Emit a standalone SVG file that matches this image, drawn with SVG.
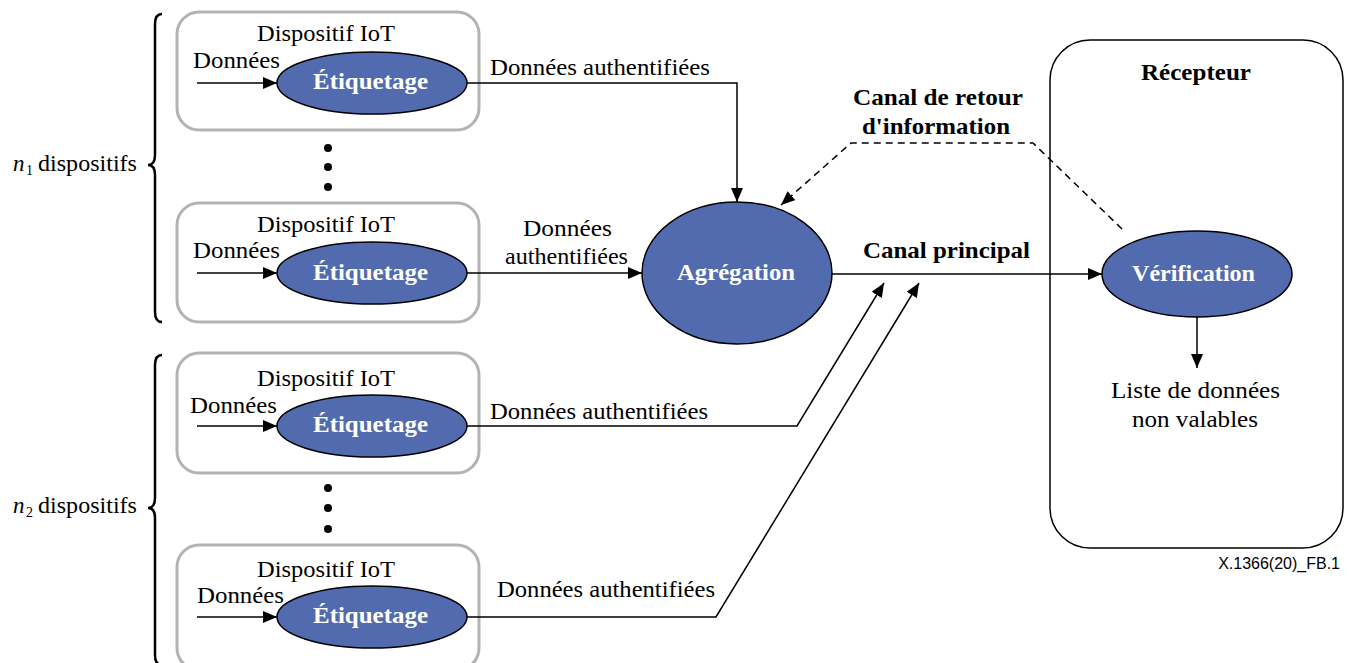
<svg xmlns="http://www.w3.org/2000/svg" width="1354" height="663" viewBox="0 0 1354 663">
<defs>
<style>
.t{font-family:"Liberation Serif","Times New Roman",serif;font-size:23px;fill:#000}
.b{font-family:"Liberation Serif","Times New Roman",serif;font-size:23px;font-weight:bold;fill:#000}
.w{font-family:"Liberation Serif","Times New Roman",serif;font-size:23px;font-weight:bold;fill:#fff}
.sub{font-family:"Liberation Serif","Times New Roman",serif;font-size:14px;fill:#000}
.dev{fill:#fff;stroke:#b3b3b3;stroke-width:3}
.ell{fill:#526bae;stroke:#000;stroke-width:1.5}
.ln{fill:none;stroke:#000;stroke-width:1.5}
.dash{fill:none;stroke:#000;stroke-width:1.5;stroke-dasharray:7 5}
.brace{fill:none;stroke:#000;stroke-width:2.5}
</style>
<marker id="ah" viewBox="0 0 14 12" refX="14" refY="6" markerWidth="14" markerHeight="12" markerUnits="userSpaceOnUse" orient="auto">
<path d="M0,0 L14,6 L0,12 Z" fill="#000"/>
</marker>
</defs>
<rect width="1354" height="663" fill="#fff"/>

<g id="brace1">
<path class="brace" d="M162 14 Q155 14 155 24 L155 155 Q155 165 148 165 Q155 165 155 175 L155 312 Q155 322 162 322"/>
<text class="t" x="13" y="171" font-style="italic">n</text>
<text class="sub" x="26" y="175">1</text>
<text class="t" x="38" y="171" textLength="99" lengthAdjust="spacingAndGlyphs">dispositifs</text>
</g>
<g id="brace2">
<path class="brace" d="M162 355 Q155 355 155 365 L155 498 Q155 508 148 508 Q155 508 155 518 L155 655 Q155 665 162 665"/>
<text class="t" x="13" y="513" font-style="italic">n</text>
<text class="sub" x="26" y="517">2</text>
<text class="t" x="38" y="513" textLength="99" lengthAdjust="spacingAndGlyphs">dispositifs</text>
</g>

<g id="device1">
<rect class="dev" x="177" y="12" width="302" height="118" rx="22"/>
<text class="t" x="257" y="41" textLength="138" lengthAdjust="spacingAndGlyphs">Dispositif IoT</text>
<text class="t" x="193" y="68" textLength="87" lengthAdjust="spacingAndGlyphs">Données</text>
<ellipse class="ell" cx="372" cy="83" rx="95" ry="31"/>
<text class="w" x="313" y="89" textLength="115" lengthAdjust="spacingAndGlyphs">Étiquetage</text>
</g>
<g id="dots1" fill="#000">
<circle cx="328" cy="148" r="4"/><circle cx="328" cy="167" r="4"/><circle cx="328" cy="187" r="4"/>
</g>
<g id="device2">
<rect class="dev" x="177" y="203" width="302" height="119" rx="22"/>
<text class="t" x="257" y="232" textLength="138" lengthAdjust="spacingAndGlyphs">Dispositif IoT</text>
<text class="t" x="193" y="258" textLength="87" lengthAdjust="spacingAndGlyphs">Données</text>
<ellipse class="ell" cx="372" cy="273" rx="95" ry="31"/>
<text class="w" x="313" y="280" textLength="115" lengthAdjust="spacingAndGlyphs">Étiquetage</text>
</g>
<g id="device3">
<rect class="dev" x="177" y="353" width="302" height="120" rx="22"/>
<text class="t" x="257" y="386" textLength="138" lengthAdjust="spacingAndGlyphs">Dispositif IoT</text>
<text class="t" x="190" y="413" textLength="87" lengthAdjust="spacingAndGlyphs">Données</text>
<ellipse class="ell" cx="372" cy="426" rx="95" ry="31"/>
<text class="w" x="313" y="432" textLength="115" lengthAdjust="spacingAndGlyphs">Étiquetage</text>
</g>
<g id="dots2" fill="#000">
<circle cx="328" cy="488" r="4"/><circle cx="328" cy="508" r="4"/><circle cx="328" cy="529" r="4"/>
</g>
<g id="device4">
<rect class="dev" x="177" y="545" width="302" height="125" rx="22"/>
<text class="t" x="257" y="577" textLength="138" lengthAdjust="spacingAndGlyphs">Dispositif IoT</text>
<text class="t" x="197" y="603" textLength="87" lengthAdjust="spacingAndGlyphs">Données</text>
<ellipse class="ell" cx="372" cy="617" rx="95" ry="31"/>
<text class="w" x="313" y="623" textLength="115" lengthAdjust="spacingAndGlyphs">Étiquetage</text>
</g>

<g id="aggregation">
<ellipse class="ell" cx="737" cy="273" rx="95" ry="71"/>
<text class="w" x="677" y="280" textLength="118" lengthAdjust="spacingAndGlyphs">Agrégation</text>
</g>

<g id="receiver">
<rect x="1050" y="40" width="293" height="508" rx="40" fill="none" stroke="#000" stroke-width="1.5"/>
<text class="b" x="1141" y="80" textLength="110" lengthAdjust="spacingAndGlyphs">Récepteur</text>
</g>
<g id="verification">
<ellipse class="ell" cx="1197" cy="274" rx="95" ry="43"/>
<text class="w" x="1132" y="281" textLength="123" lengthAdjust="spacingAndGlyphs">Vérification</text>
</g>
<g id="invalid-list">
<text class="t" x="1111" y="398" textLength="169" lengthAdjust="spacingAndGlyphs">Liste de données</text>
<text class="t" x="1132" y="427" textLength="126" lengthAdjust="spacingAndGlyphs">non valables</text>
</g>

<g id="connectors">
<line class="ln" x1="197" y1="83" x2="277" y2="83" marker-end="url(#ah)"/>
<line class="ln" x1="197" y1="273" x2="277" y2="273" marker-end="url(#ah)"/>
<line class="ln" x1="197" y1="426" x2="277" y2="426" marker-end="url(#ah)"/>
<line class="ln" x1="197" y1="617" x2="277" y2="617" marker-end="url(#ah)"/>

<polyline class="ln" points="467,83 737,83 737,202" marker-end="url(#ah)"/>
<line class="ln" x1="467" y1="273" x2="642" y2="273" marker-end="url(#ah)"/>
<polyline class="ln" points="467,426 797,426 884,283" marker-end="url(#ah)"/>
<polyline class="ln" points="467,617 716,617 919,283" marker-end="url(#ah)"/>

<line class="ln" x1="832" y1="274" x2="1102" y2="274" marker-end="url(#ah)"/>
<polyline class="dash" points="1122,229 1033,143 851,143 781,205" marker-end="url(#ah)"/>
<line class="ln" x1="1197" y1="317" x2="1197" y2="368" marker-end="url(#ah)"/>

<text class="t" x="490" y="75" textLength="220" lengthAdjust="spacingAndGlyphs">Données authentifiées</text>
<text class="t" x="523" y="236" textLength="89" lengthAdjust="spacingAndGlyphs">Données</text>
<text class="t" x="505" y="264" textLength="123" lengthAdjust="spacingAndGlyphs">authentifiées</text>
<text class="t" x="490" y="419" textLength="218" lengthAdjust="spacingAndGlyphs">Données authentifiées</text>
<text class="t" x="497" y="597" textLength="218" lengthAdjust="spacingAndGlyphs">Données authentifiées</text>
<text class="b" x="863" y="258" textLength="167" lengthAdjust="spacingAndGlyphs">Canal principal</text>
<text class="b" x="853" y="105" textLength="170" lengthAdjust="spacingAndGlyphs">Canal de retour</text>
<text class="b" x="862" y="134" textLength="148" lengthAdjust="spacingAndGlyphs">d'information</text>
</g>

<text x="1340" y="569" text-anchor="end" font-family="Liberation Sans, Arial, sans-serif" font-size="16" fill="#000">X.1366(20)_FB.1</text>
</svg>
